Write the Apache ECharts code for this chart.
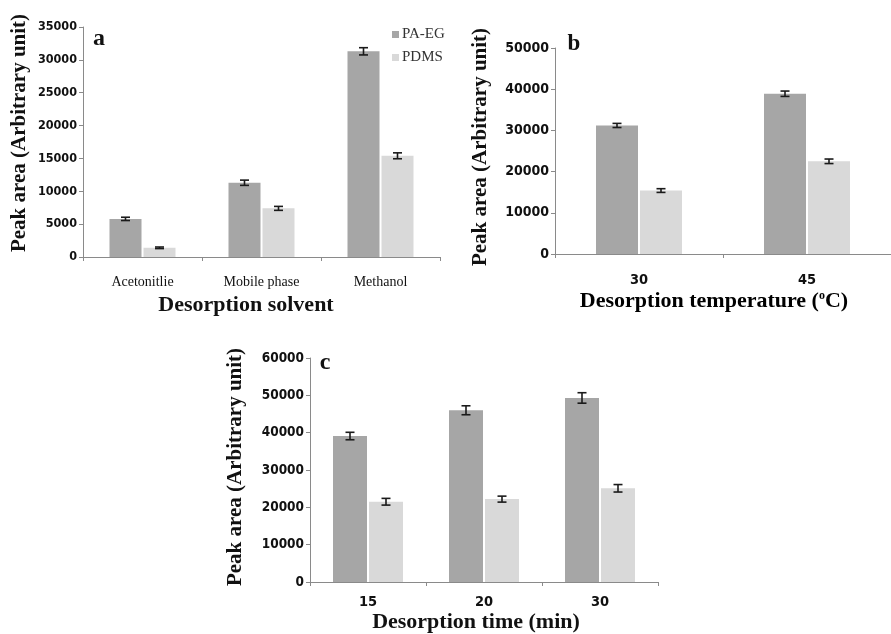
<!DOCTYPE html>
<html><head><meta charset="utf-8">
<script src="https://cdn.jsdelivr.net/npm/echarts@6/dist/echarts.min.js"></script>
<style>html,body{margin:0;padding:0;background:#fff}#c{width:891px;height:634px}</style>
</head><body><div id="c"></div>
<script>
// ---- data ----
var seriesNames = ['PA-EG', 'PDMS'];
var catsA = ['Acetonitlie', 'Mobile phase', 'Methanol'];
var paegA = [5800, 11300, 31300];
var pdmsA = [1400, 7400, 15400];
var paegErrA = [250, 400, 550];
var pdmsErrA = [120, 300, 450];

var catsB = ['30', '45'];
var paegB = [31200, 38900];
var pdmsB = [15400, 22500];
var paegErrB = [500, 650];
var pdmsErrB = [450, 550];

var catsC = ['15', '20', '30'];
var paegC = [39100, 46000, 49300];
var pdmsC = [21500, 22200, 25100];
var paegErrC = [1000, 1200, 1400];
var pdmsErrC = [900, 800, 1000];

var yMaxA = 35000, yStepA = 5000;
var yMaxB = 50000, yStepB = 10000;
var yMaxC = 60000, yStepC = 10000;

// ---- style ----
var C1 = '#a6a6a6', C2 = '#d9d9d9';
var axisCol = '#8a8a8a';
var serif = 'Liberation Serif';
var sans = 'DejaVu Sans Condensed';

var grids = [
  {left: 83, top: 27, width: 357, height: 230, bw: 32, tickFs: 12.5, catFont: serif, catFs: 14, catW: 'normal', catM: 18},
  {left: 555, top: 48, width: 346, height: 206, bw: 42, tickFs: 14, catFont: sans, catFs: 14.5, catW: 'bold', catM: 19},
  {left: 310, top: 358, width: 348, height: 224, bw: 34, tickFs: 13.5, catFont: sans, catFs: 14.5, catW: 'bold', catM: 13}
];
var cats = [catsA, catsB, catsC];
var yMax = [yMaxA, yMaxB, yMaxC];
var ySteps = [yStepA, yStepB, yStepC];
var vals = [[paegA, pdmsA], [paegB, pdmsB], [paegC, pdmsC]];
var errs = [[paegErrA, pdmsErrA], [paegErrB, pdmsErrB], [paegErrC, pdmsErrC]];
var gapPx = 2;

var option = {
  animation: false,
  backgroundColor: '#fff',
  legend: {
    orient: 'vertical', left: 387, top: 22, itemWidth: 7, itemHeight: 7, itemGap: 8,
    icon: 'rect', data: seriesNames,
    textStyle: {fontFamily: serif, fontSize: 15, color: '#333', padding: [0, 0, 0, -2]}
  },
  grid: [], xAxis: [], yAxis: [], series: [],
  graphic: []
};

grids.forEach(function (g, gi) {
  option.grid.push({left: g.left, top: g.top, width: g.width, height: g.height, containLabel: false});
  option.xAxis.push({
    type: 'category', gridIndex: gi, data: cats[gi],
    axisLine: {lineStyle: {color: axisCol, width: 1}},
    axisTick: {show: true, length: 4, lineStyle: {color: axisCol}},
    axisLabel: {fontFamily: g.catFont, fontSize: g.catFs, fontWeight: g.catW, color: '#111', margin: g.catM}
  });
  option.yAxis.push({
    type: 'value', gridIndex: gi, min: 0, max: yMax[gi], interval: ySteps[gi],
    axisLine: {show: true, lineStyle: {color: axisCol, width: 1}},
    axisTick: {show: true, length: 4, lineStyle: {color: axisCol}},
    splitLine: {show: false},
    axisLabel: {fontFamily: sans, fontWeight: 'bold', fontSize: g.tickFs, color: '#111', margin: 6,
      formatter: function (v) { return String(v); }}
  });
  [0, 1].forEach(function (si) {
    option.series.push({
      type: 'bar', name: seriesNames[si], xAxisIndex: gi, yAxisIndex: gi,
      data: vals[gi][si], barWidth: g.bw, barGap: (gapPx / g.bw * 100) + '%',
      itemStyle: {color: si === 0 ? C1 : C2}
    });
  });
  [0, 1].forEach(function (si) {
    var off = (si - 0.5) * (g.bw + gapPx);
    option.series.push({
      type: 'custom', xAxisIndex: gi, yAxisIndex: gi, z: 10,
      data: vals[gi][si].map(function (v, i) { return [i, v, errs[gi][si][i]]; }),
      renderItem: function (params, api) {
        var i = api.value(0), v = api.value(1), e = api.value(2);
        var top = api.coord([i, v + e]);
        var bot = api.coord([i, v - e]);
        var x = top[0] + off;
        var cw = 4.5;
        var st = {stroke: '#1a1a1a', lineWidth: 1.6};
        return {type: 'group', children: [
          {type: 'line', shape: {x1: x, y1: top[1], x2: x, y2: bot[1]}, style: st},
          {type: 'line', shape: {x1: x - cw, y1: top[1], x2: x + cw, y2: top[1]}, style: st},
          {type: 'line', shape: {x1: x - cw, y1: bot[1], x2: x + cw, y2: bot[1]}, style: st}
        ]};
      }
    });
  });
});

function vText(x, y, s, fs) {
  return {type: 'text', x: x, y: y, rotation: Math.PI / 2,
    style: {text: s, font: 'bold ' + fs + 'px "' + serif + '"', fill: '#111', align: 'center', verticalAlign: 'middle'}};
}
function hText(x, y, s, fs) {
  return {type: 'text', x: x, y: y,
    style: {text: s, font: 'bold ' + fs + 'px "' + serif + '"', fill: '#111', align: 'center', verticalAlign: 'middle'}};
}
option.graphic = [
  vText(20, 133, 'Peak area (Arbitrary unit)', 21),
  vText(481, 147, 'Peak area (Arbitrary unit)', 21),
  vText(236, 467, 'Peak area (Arbitrary unit)', 21),
  hText(246, 305, 'Desorption solvent', 22),
  {type: 'text', x: 714, y: 301, style: {
    text: '{t|Desorption temperature (}{s|o}{t|C)}', align: 'center', verticalAlign: 'middle',
    rich: {t: {fontFamily: serif, fontWeight: 'bold', fontSize: 22, color: '#111'},
           s: {fontFamily: serif, fontWeight: 'bold', fontSize: 12, verticalAlign: 'top', color: '#111', padding: [0, 0, 10, 0]}}
  }},
  hText(476, 622, 'Desorption time (min)', 22),
  hText(99, 39, 'a', 24),
  hText(574, 44, 'b', 23),
  hText(325, 363, 'c', 24)
];

var chart = echarts.init(document.getElementById('c'), null, {renderer: 'canvas'});
chart.setOption(option);
</script></body></html>
